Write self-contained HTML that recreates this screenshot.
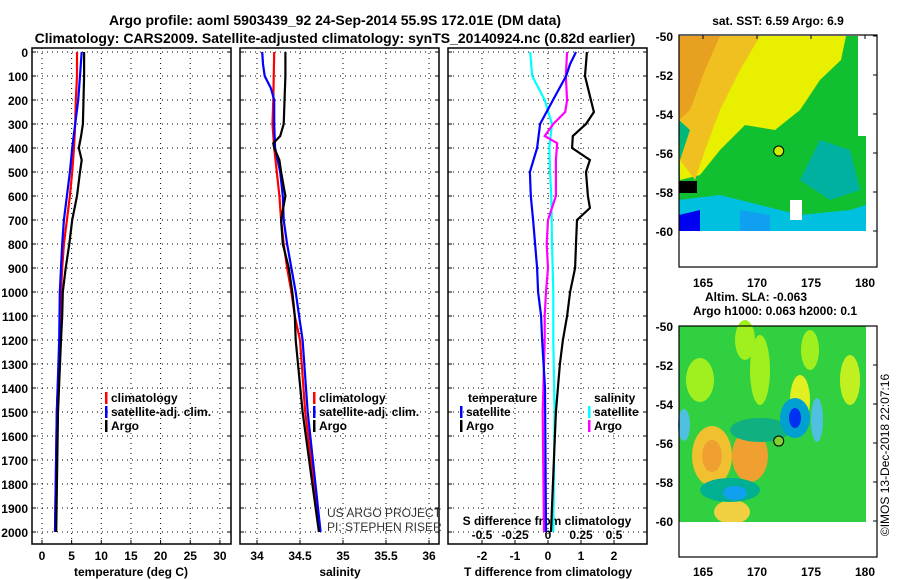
<!DOCTYPE html>
<html><head><meta charset="utf-8"><style>
body{margin:0;background:#fff;}
svg{display:block;font-family:"Liberation Sans",Arial,sans-serif;font-weight:bold;}
</style></head><body>
<svg id="c" width="900" height="580" viewBox="0 0 900 580">
<text x="335" y="25" font-size="14" text-anchor="middle">Argo profile: aoml 5903439_92 24-Sep-2014 55.9S 172.01E (DM data)</text>
<text x="335" y="43" font-size="14" text-anchor="middle">Climatology: CARS2009. Satellite-adjusted climatology: synTS_20140924.nc (0.82d earlier)</text>
<g id="maps"></g>
<g id="panels"></g>
<text transform="translate(889,455) rotate(-90)" font-size="12" font-weight="normal" text-anchor="middle">©IMOS 13-Dec-2018 22:07:16</text>
</svg>
<script>
// ---- data ----
const depthTicks=[0,100,200,300,400,500,600,700,800,900,1000,1100,1200,1300,1400,1500,1600,1700,1800,1900,2000];
const tTicks=[0,5,10,15,20,25,30];
const sTicks=[34,34.5,35,35.5,36];
const dTTicks=[-2,-1,0,1,2];
const dSTicks=[-0.5,-0.25,0,0.25,0.5];
const tDepth=[0,100,200,300,350,400,450,500,600,700,800,900,1000,1100,1200,1500,2000];
const tArgo=[7.1,7.1,7.0,6.9,6.6,6.2,6.7,6.4,5.9,5.1,4.6,4.0,3.5,3.4,3.2,2.7,2.4];
const tClimDepth=[0,100,200,300,400,500,600,700,800,900,1000,1200,1500,2000];
const tClim=[5.9,5.9,5.7,5.6,5.4,5.1,4.7,4.2,3.7,3.4,3.2,3.0,2.5,2.2];
const tSat=[6.7,6.4,6.1,5.6,5.1,4.7,4.2,3.7,3.4,3.2,3.0,2.9,2.5,2.2];
const sArgoDepth=[0,100,300,350,380,400,450,500,600,700,800,900,1000,1100,1200,1500,2000];
const sArgo=[34.33,34.33,34.31,34.27,34.19,34.2,34.26,34.28,34.33,34.28,34.3,34.37,34.41,34.44,34.45,34.53,34.72];
const sClimDepth=[0,200,300,400,500,600,700,800,900,1000,1100,1200,1500,2000];
const sClim=[34.2,34.19,34.18,34.2,34.23,34.26,34.28,34.31,34.35,34.4,34.44,34.5,34.56,34.73];
const sSatDepth=[0,50,100,150,200,300,400,500,600,700,800,900,1000,1100,1200,1500,2000];
const sSat=[34.06,34.07,34.09,34.16,34.2,34.2,34.21,34.27,34.3,34.31,34.35,34.4,34.45,34.49,34.53,34.59,34.74];
const dTArgoDepth=[0,100,200,250,300,350,400,450,500,600,650,700,800,900,1000,1100,1200,1300,1500,1700,2000];
const dTArgo=[1.18,1.12,1.3,1.39,1.15,0.75,0.73,1.27,1.15,1.21,1.27,0.88,0.85,0.82,0.67,0.58,0.45,0.36,0.24,0.18,0.09];
const dTSatDepth=[0,50,100,200,300,400,500,600,700,800,900,1000,1100,1200,1400,2000];
const dTSat=[0.85,0.67,0.55,0.15,-0.24,-0.33,-0.55,-0.52,-0.45,-0.39,-0.33,-0.3,-0.21,-0.18,-0.09,-0.06];
const dSSatDepth=[0,100,200,300,400,500,600,800,1000,1200,1500,2000];
const dSSat=[-0.135,-0.12,-0.025,0.03,0.01,0.015,0.025,0.03,0.04,0.04,0.05,0.04];
const dSArgoDepth=[0,100,200,250,300,350,380,450,600,700,800,900,1000,1100,1200,1500,2000];
const dSArgo=[0.145,0.135,0.145,0.13,0.04,-0.025,0.07,0.06,0.06,0.0,-0.01,0.0,-0.015,-0.025,-0.025,-0.04,-0.03];

const NS="http://www.w3.org/2000/svg";
function mk(tag,attrs,parent,text){const e=document.createElementNS(NS,tag);for(const k in attrs)e.setAttribute(k,attrs[k]);if(text!==undefined)e.textContent=text;parent.appendChild(e);return e;}
const P=document.getElementById('panels');
const yD=d=>52+0.24*d;
const xT=t=>42+5.93*t;
const xS=s=>257+86*(s-34);
const xDT=t=>548+33*t;
const xDS=s=>548+132*s;
const yTop=48,yBot=544;
const panels=[[32,231],[240,439],[448,647]];

panels.forEach((p,i)=>{
  const g=mk('g',{},P);
  
  
  depthTicks.forEach(d=>{const l=mk('line',{x1:p[0],x2:p[1],y1:yD(d),y2:yD(d),stroke:'#000','stroke-width':1,'stroke-dasharray':'1,4'},g);
    
    
    mk('line',{x1:p[0],x2:p[0]+4,y1:yD(d),y2:yD(d),stroke:'#000'},g);mk('line',{x1:p[1]-4,x2:p[1],y1:yD(d),y2:yD(d),stroke:'#000'},g);});
});
function vgrid(vals,fx,label){vals.forEach(v=>{const l=mk('line',{x1:fx(v),x2:fx(v),y1:yTop,y2:yBot,stroke:'#000','stroke-dasharray':'1,4'},P);
  
  
  mk('line',{x1:fx(v),x2:fx(v),y1:yBot-4,y2:yBot,stroke:'#000'},P);});}
vgrid(tTicks,xT,'temperature');vgrid(sTicks,xS,'salinity');vgrid(dTTicks,xDT,'t-diff');
panels.forEach((p,i)=>{const r=mk('rect',{x:p[0],y:yTop,width:p[1]-p[0],height:yBot-yTop,fill:'none',stroke:'#000','stroke-width':1.5},P);
  
  });
depthTicks.forEach(d=>{const t=mk('text',{x:28,y:yD(d)+5,'font-size':12,'text-anchor':'end'},P,String(d));
  
  });
function xlabels(vals,fx,y,name){vals.forEach(v=>{const t=mk('text',{x:fx(v),y:y,'font-size':12,'text-anchor':'middle'},P,String(v));
  
  });}
xlabels(tTicks,xT,560,'temperature');xlabels(sTicks,xS,560,'salinity');xlabels(dTTicks,xDT,560,'t-diff');
dSTicks.forEach(v=>{const t=mk('text',{x:xDS(v),y:539,'font-size':12,'text-anchor':'middle'},P,String(v));
  
  });
[[131,'temperature (deg C)','x-axis-title-temperature'],[340,'salinity','x-axis-title-salinity'],[548,'T difference from climatology','x-axis-title-t-diff']].forEach(a=>{
  const t=mk('text',{x:a[0],y:576,'font-size':12,'text-anchor':'middle'},P,a[1]);
  
  });
const sl=mk('text',{x:547,y:525,'font-size':12,'text-anchor':'middle'},P,'S difference from climatology');



function line(depths,vals,fx,color,name){const pts=depths.map((d,i)=>fx(vals[i]).toFixed(1)+','+yD(d).toFixed(1)).join(' ');
  const l=mk('polyline',{points:pts,fill:'none',stroke:color,'stroke-width':2.2},P);
  
  }
line(tClimDepth,tClim,xT,'#f00','temperature-climatology-line');
line(tClimDepth,tSat,xT,'#00f','temperature-satellite-line');
line(tDepth,tArgo,xT,'#000','temperature-argo-line');
line(sClimDepth,sClim,xS,'#f00','salinity-climatology-line');
line(sSatDepth,sSat,xS,'#00f','salinity-satellite-line');
line(sArgoDepth,sArgo,xS,'#000','salinity-argo-line');
line(dSSatDepth,dSSat,xDS,'#0ff','s-diff-satellite-line');
line(dSArgoDepth,dSArgo,xDS,'#f0f','s-diff-argo-line');
line(dTSatDepth,dTSat,xDT,'#00f','t-diff-satellite-line');
line(dTArgoDepth,dTArgo,xDT,'#000','t-diff-argo-line');

function legend(x,y,color,label,name){mk('rect',{x:x,y:y-10,width:2.5,height:12,fill:color},P);
  const t=mk('text',{x:x+6,y:y,'font-size':12},P,label);
  
  }
legend(105,402,'#f00','climatology','legend-climatology');
legend(105,416,'#00f','satellite-adj. clim.','legend-satellite-adj');
legend(105,430,'#000','Argo','legend-argo');
legend(313,402,'#f00','climatology','legend-climatology-2');
legend(313,416,'#00f','satellite-adj. clim.','legend-satellite-adj-2');
legend(313,430,'#000','Argo','legend-argo-2');
const lt=mk('text',{x:468,y:402,'font-size':12},P,'temperature');


legend(460,416,'#00f','satellite','legend-t-satellite');
legend(460,430,'#000','Argo','legend-t-argo');
const ls=mk('text',{x:594,y:402,'font-size':12},P,'salinity');


legend(588,416,'#0ff','satellite','legend-s-satellite');
legend(588,430,'#f0f','Argo','legend-s-argo');
[['US ARGO PROJECT',517],['PI: STEPHEN RISER',531]].forEach(a=>{const t=mk('text',{x:327,y:a[1],'font-size':12,'font-weight':'normal',fill:'#333'},P,a[0]);
  
  });

const M=document.getElementById('maps');
function mapFrame(latTop,name){
  const lx=l=>703+(l-165)*10.8; const ly=la=>latTop+(-50-la)*19.5;
  const g=mk('g',{},M);
  
  
  return {g,lx,ly};
}
function poly(g,pts,fill){mk('polygon',{points:pts.map(p=>p.join(',')).join(' '),fill:fill},g);}
(function(){
  const m=mapFrame(36,'sst-map');const g=m.g,lx=m.lx,ly=m.ly;
  const L=679,R=866,T=36,B=231;
  mk('rect',{x:L,y:T,width:R-L,height:B-T,fill:'#10c030'},g);
  poly(g,[[L,T],[R-20,T],[R-25,60],[820,80],[800,110],[775,130],[745,125],[720,150],[700,175],[680,180]],'#e8f000');
  poly(g,[[L,T],[760,T],[740,70],[720,110],[705,150],[695,180],[680,160]],'#f0c020');
  poly(g,[[L,T],[720,T],[705,70],[690,110],[L,120]],'#e8a020');
  poly(g,[[L,120],[690,130],[680,160]],'#00b878');
  poly(g,[[L,200],[720,195],[760,205],[800,215],[850,210],[R,205],[R,B],[L,B]],'#00c0e0');
  poly(g,[[L,215],[700,210],[700,B],[L,B]],'#0000f0');
  poly(g,[[740,210],[770,215],[770,B],[740,B]],'#10a0f0');
  mk('rect',{x:L,y:181,width:18,height:12,fill:'#000'},g);
  poly(g,[[820,140],[850,150],[860,190],[830,200],[800,180]],'#00b0a0');
  mk('rect',{x:858,y:36,width:8,height:100,fill:'#fff'},g);
  mk('rect',{x:790,y:200,width:12,height:20,fill:'#fff'},g);
  mk('rect',{x:L,y:B,width:R-L,height:36,fill:'#fff'},g);
  mk('circle',{cx:lx(172.01),cy:ly(-55.9),r:5,fill:'#c8f000',stroke:'#000'},g);
  mk('rect',{x:679,y:35,width:198,height:232,fill:'none',stroke:'#000','stroke-width':1.2},g);
  const t=mk('text',{x:778,y:25,'font-size':12,'text-anchor':'middle'},g,'sat. SST: 6.59 Argo: 6.9');
  
  
  [-50,-52,-54,-56,-58,-60].forEach(la=>{mk('text',{x:673,y:ly(la)+5,'font-size':12,'text-anchor':'end'},g,String(la));mk('line',{x1:877,x2:873,y1:ly(la),y2:ly(la),stroke:'#000'},g);});
  [165,170,175,180].forEach(lo=>{mk('text',{x:lx(lo),y:287,'font-size':12,'text-anchor':'middle'},g,String(lo));mk('line',{x1:lx(lo),x2:lx(lo),y1:35,y2:39,stroke:'#000'},g);});
})();
(function(){
  const m=mapFrame(326,'sla-map');const g=m.g,lx=m.lx,ly=m.ly;
  const L=679,R=866,T=326,B=522;
  mk('rect',{x:L,y:T,width:R-L,height:B-T,fill:'#30d040'},g);
  [[700,380,14,22,'#a0f020'],[760,370,10,35,'#a0f020'],[800,400,10,25,'#e0f020'],[850,380,10,25,'#c0f020'],[745,340,10,20,'#a0f020'],[810,350,9,20,'#a0f020']].forEach(e=>mk('ellipse',{cx:e[0],cy:e[1],rx:e[2],ry:e[3],fill:e[4]},g));
  [[712,456,20,30,'#f0c030'],[750,456,18,26,'#f0a030'],[732,512,18,12,'#f0d040'],[760,430,30,12,'#10b080'],[795,418,15,20,'#00a0d0'],[730,490,30,12,'#00b090'],[735,493,12,7,'#10a0f0'],[817,420,6,22,'#50c0e0'],[684,425,6,16,'#50c0e0']].forEach(e=>mk('ellipse',{cx:e[0],cy:e[1],rx:e[2],ry:e[3],fill:e[4]},g));
  mk('ellipse',{cx:712,cy:456,rx:10,ry:16,fill:'#f0a030'},g);
  mk('ellipse',{cx:795,cy:418,rx:6,ry:10,fill:'#0030f0'},g);
  mk('rect',{x:L,y:B,width:R-L,height:35,fill:'#fff'},g);
  mk('circle',{cx:lx(172.01),cy:ly(-55.9),r:5,fill:'#80d030',stroke:'#000'},g);
  mk('rect',{x:679,y:326,width:198,height:231,fill:'none',stroke:'#000','stroke-width':1.2},g);
  const t1=mk('text',{x:756,y:301,'font-size':12,'text-anchor':'middle'},g,'Altim. SLA: -0.063');
  
  
  const t2=mk('text',{x:775,y:315,'font-size':12,'text-anchor':'middle'},g,'Argo h1000: 0.063 h2000: 0.1');
  
  
  [-50,-52,-54,-56,-58,-60].forEach(la=>{mk('text',{x:673,y:ly(la)+5,'font-size':12,'text-anchor':'end'},g,String(la));mk('line',{x1:877,x2:873,y1:ly(la),y2:ly(la),stroke:'#000'},g);});
  [165,170,175,180].forEach(lo=>{mk('text',{x:lx(lo),y:576,'font-size':12,'text-anchor':'middle'},g,String(lo));});
})();
</script>
</body></html>
